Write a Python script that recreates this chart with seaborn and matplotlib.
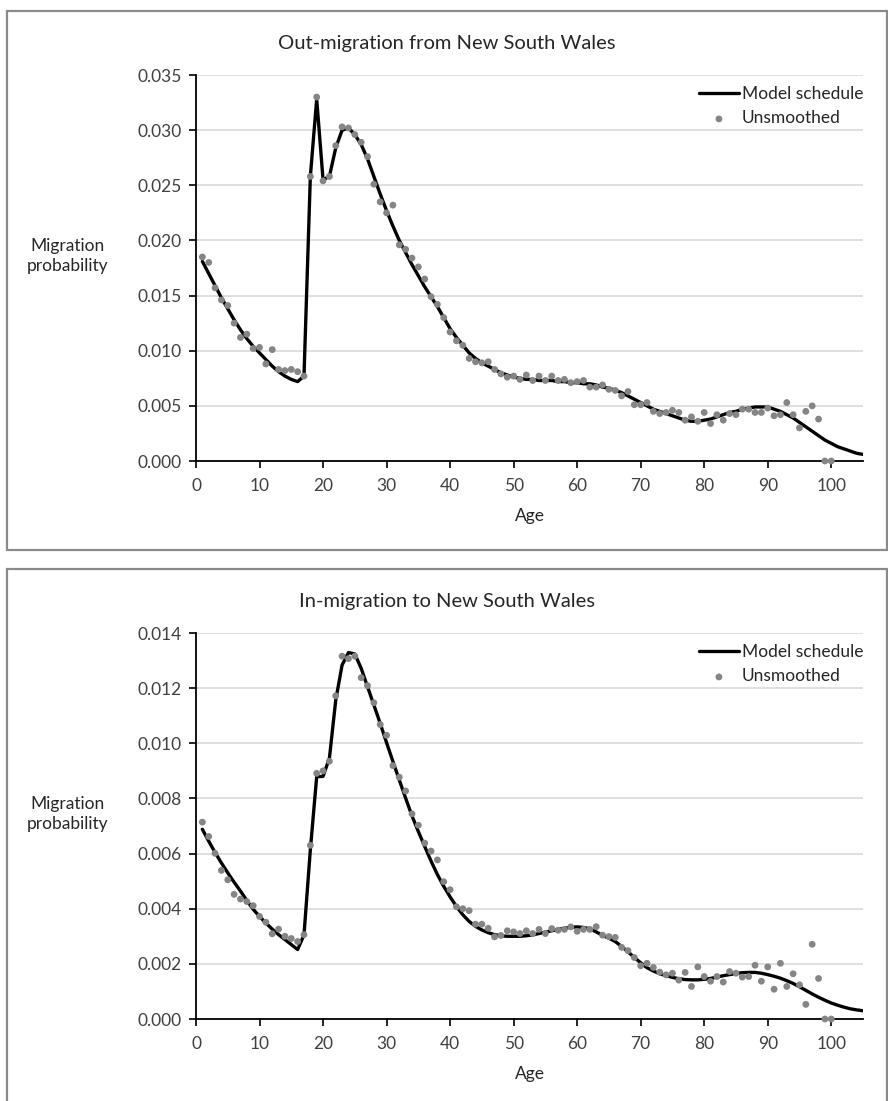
import numpy as np
import pandas as pd
import matplotlib
matplotlib.use("Agg")
import matplotlib.pyplot as plt
import matplotlib.patches as mpatches
import seaborn as sns

# ---------------- data ----------------
obs_ages = list(range(1, 101))
model_ages = list(range(1, 106))

out_unsmoothed = [
    0.0185, 0.0180, 0.0157, 0.0146, 0.0141, 0.0125, 0.0112, 0.0115, 0.0102, 0.0103,
    0.0088, 0.0101, 0.0083, 0.0082, 0.0083, 0.0081, 0.0077, 0.0258, 0.0330, 0.0254,
    0.0258, 0.0286, 0.0303, 0.0302, 0.0296, 0.0289, 0.0276, 0.0251, 0.0235, 0.0225,
    0.0232, 0.0196, 0.0192, 0.0184, 0.0176, 0.0165, 0.0149, 0.0142, 0.0130, 0.0117,
    0.0109, 0.0105, 0.0093, 0.0090, 0.0089, 0.0090, 0.0083, 0.0079, 0.0076, 0.0077,
    0.0074, 0.0078, 0.0073, 0.0077, 0.0073, 0.0077, 0.0073, 0.0074, 0.0071, 0.0072,
    0.0073, 0.0067, 0.0067, 0.0069, 0.0065, 0.0064, 0.0059, 0.0063, 0.0051, 0.0051,
    0.0053, 0.0045, 0.0043, 0.0044, 0.0046, 0.0044, 0.0037, 0.0040, 0.0036, 0.0044,
    0.0034, 0.0042, 0.0037, 0.0043, 0.0042, 0.0047, 0.0047, 0.0044, 0.0044, 0.0048,
    0.0041, 0.0042, 0.0053, 0.0042, 0.0030, 0.0045, 0.0050, 0.0038, 0.0000, 0.0000,
]

out_model = [
    0.0181, 0.0170, 0.0159, 0.0148, 0.0138, 0.0128, 0.0119, 0.0111, 0.0104, 0.0098,
    0.0092, 0.0086, 0.0081, 0.0077, 0.0074, 0.0072, 0.0077, 0.0258, 0.0328, 0.0255,
    0.0258, 0.0284, 0.0300, 0.0302, 0.0296, 0.0287, 0.0274, 0.0258, 0.0242, 0.0227,
    0.0213, 0.0200, 0.0189, 0.0178, 0.0168, 0.0158, 0.0149, 0.0140, 0.0130, 0.0120,
    0.0112, 0.0105, 0.0098, 0.0093, 0.0089, 0.0086, 0.0083, 0.0080, 0.0078, 0.0076,
    0.0075, 0.0074, 0.0074, 0.0073, 0.0073, 0.0073, 0.0072, 0.0072, 0.0071, 0.0071,
    0.0070, 0.0070, 0.0069, 0.0067, 0.0066, 0.0064, 0.0062, 0.0059, 0.0056, 0.0053,
    0.0050, 0.0047, 0.0045, 0.0043, 0.0041, 0.0039, 0.0037, 0.0036, 0.0036, 0.0037,
    0.0038, 0.0040, 0.0042, 0.0044, 0.0045, 0.0047, 0.0048, 0.0049, 0.0049, 0.0049,
    0.0047, 0.0045, 0.0042, 0.0039, 0.0035, 0.0031, 0.0027, 0.0023, 0.0019, 0.0016,
    0.0013, 0.0011, 0.0009, 0.0007, 0.0006,
]

in_unsmoothed = [
    0.00714, 0.00662, 0.00601, 0.00539, 0.00505, 0.00452, 0.00435, 0.00426, 0.00411, 0.00372,
    0.00351, 0.00309, 0.00326, 0.00300, 0.00292, 0.00281, 0.00306, 0.00630, 0.00891, 0.00900,
    0.00935, 0.01172, 0.01316, 0.01307, 0.01316, 0.01238, 0.01209, 0.01147, 0.01068, 0.01029,
    0.00919, 0.00877, 0.00827, 0.00744, 0.00703, 0.00638, 0.00609, 0.00577, 0.00498, 0.00469,
    0.00407, 0.00400, 0.00393, 0.00344, 0.00344, 0.00329, 0.00298, 0.00303, 0.00320, 0.00316,
    0.00310, 0.00320, 0.00310, 0.00325, 0.00310, 0.00328, 0.00322, 0.00325, 0.00334, 0.00318,
    0.00325, 0.00325, 0.00335, 0.00304, 0.00299, 0.00296, 0.00260, 0.00248, 0.00223, 0.00193,
    0.00202, 0.00187, 0.00170, 0.00160, 0.00166, 0.00141, 0.00169, 0.00118, 0.00189, 0.00154,
    0.00137, 0.00154, 0.00134, 0.00172, 0.00166, 0.00152, 0.00154, 0.00195, 0.00137, 0.00189,
    0.00108, 0.00202, 0.00118, 0.00164, 0.00124, 0.00053, 0.00271, 0.00147, 0.00000, 0.00000,
]

in_model = [
    0.00688, 0.00645, 0.00604, 0.00566, 0.00530, 0.00496, 0.00464, 0.00430, 0.00398, 0.00372,
    0.00348, 0.00326, 0.00306, 0.00288, 0.00270, 0.00252, 0.00305, 0.00614, 0.00879, 0.00880,
    0.00946, 0.01157, 0.01284, 0.01329, 0.01324, 0.01272, 0.01205, 0.01139, 0.01072, 0.01002,
    0.00934, 0.00867, 0.00801, 0.00737, 0.00680, 0.00626, 0.00573, 0.00524, 0.00481, 0.00443,
    0.00408, 0.00378, 0.00354, 0.00336, 0.00323, 0.00313, 0.00306, 0.00302, 0.00300, 0.00300,
    0.00300, 0.00302, 0.00305, 0.00310, 0.00315, 0.00320, 0.00325, 0.00329, 0.00333, 0.00334,
    0.00332, 0.00327, 0.00316, 0.00303, 0.00293, 0.00281, 0.00263, 0.00244, 0.00223, 0.00204,
    0.00186, 0.00174, 0.00164, 0.00157, 0.00151, 0.00146, 0.00143, 0.00142, 0.00142, 0.00144,
    0.00147, 0.00152, 0.00157, 0.00161, 0.00165, 0.00168, 0.00169, 0.00169, 0.00166, 0.00161,
    0.00155, 0.00148, 0.00139, 0.00129, 0.00117, 0.00104, 0.00091, 0.00079, 0.00068, 0.00058,
    0.00050, 0.00043, 0.00037, 0.00033, 0.00030,
]

titles = ["Out-migration from New South Wales", "In-migration to New South Wales"]
x_ticks = [0, 10, 20, 30, 40, 50, 60, 70, 80, 90, 100]
y_ticks_out = [0.000, 0.005, 0.010, 0.015, 0.020, 0.025, 0.030, 0.035]
y_ticks_in = [0.000, 0.002, 0.004, 0.006, 0.008, 0.010, 0.012, 0.014]

# ---------------- style ----------------
sns.set_theme(style="white")
plt.rcParams['font.family'] = ['Lato', 'DejaVu Sans']
plt.rcParams['text.color'] = '#262626'

W, H = 888, 1101
fig = plt.figure(figsize=(W / 100, H / 100), dpi=100)

def fx(px):
    return px / W

def fy(py):
    return 1 - py / H

panels = [
    dict(title=titles[0], obs=out_unsmoothed, model=out_model, yt=y_ticks_out,
         top=75, bottom=461, box_top=11, box_bottom=550, fmt="{:.3f}"),
    dict(title=titles[1], obs=in_unsmoothed, model=in_model, yt=y_ticks_in,
         top=633, bottom=1019, box_top=569, box_bottom=1108, fmt="{:.3f}"),
]

ax_left, ax_right = 196, 863

for p in panels:
    # chart-area frame
    rect = mpatches.Rectangle((fx(7), fy(p['box_bottom'])), fx(880), (p['box_bottom'] - p['box_top']) / H,
                              transform=fig.transFigure, fill=False, edgecolor='#8a8a8a', linewidth=1.6,
                              zorder=0)
    fig.patches.append(rect)

    ax = fig.add_axes([fx(ax_left), fy(p['bottom']), fx(ax_right - ax_left), (p['bottom'] - p['top']) / H])
    df_model = pd.DataFrame({'Age': model_ages, 'prob': p['model']})
    df_obs = pd.DataFrame({'Age': obs_ages, 'prob': p['obs']})

    sns.lineplot(data=df_model, x='Age', y='prob', ax=ax, color='black', linewidth=2.4,
                 label='Model schedule', zorder=3)
    sns.scatterplot(data=df_obs, x='Age', y='prob', ax=ax, color='#858585', s=24,
                    edgecolor='none', linewidth=0, label='Unsmoothed', zorder=4, clip_on=False)

    ax.set_xlim(0, 105)
    ax.set_ylim(p['yt'][0], p['yt'][-1])
    ax.set_xticks(x_ticks)
    ax.set_xticklabels([str(t) for t in x_ticks], fontsize=12.5, color='#404040')
    ax.set_yticks(p['yt'])
    ax.set_yticklabels([p['fmt'].format(t) for t in p['yt']], fontsize=12.5, color='#404040')
    ax.set_xlabel('')
    ax.set_ylabel('')
    ax.grid(axis='y', color='#d9d9d9', linewidth=1.2)
    ax.grid(axis='x', visible=False)
    ax.set_axisbelow(True)
    for side in ['top', 'right']:
        ax.spines[side].set_visible(False)
    for side in ['left', 'bottom']:
        ax.spines[side].set_visible(True)
        ax.spines[side].set_color('black')
        ax.spines[side].set_linewidth(1.3)
    ax.tick_params(axis='both', which='both', direction='out', length=5, width=1.2, color='black',
                   bottom=True, left=True, pad=5)
    ax.tick_params(axis='x', pad=7)

    leg = ax.legend(loc='upper right', bbox_to_anchor=(1.0, 0.972), frameon=False, fontsize=12.5,
                    handlelength=2.3, handletextpad=0.15, labelspacing=0.5, borderaxespad=0.0,
                    borderpad=0.0)
    for t in leg.get_texts():
        t.set_color('#262626')

    fig.text(fx(447), fy((p['box_top'] + p['top']) / 2 + 1), p['title'], ha='center', va='center',
             fontsize=14.5, color='#262626')
    fig.text(fx((ax_left + ax_right) / 2), fy(p['bottom'] + 55), 'Age', ha='center', va='center',
             fontsize=12.5, color='#262626')
    fig.text(fx(68), fy((p['top'] + p['bottom']) / 2 - 12), 'Migration\nprobability', ha='center',
             va='center', fontsize=12.5, color='#262626', linespacing=1.25)

fig.savefig('out.png', dpi=100, facecolor='white')
